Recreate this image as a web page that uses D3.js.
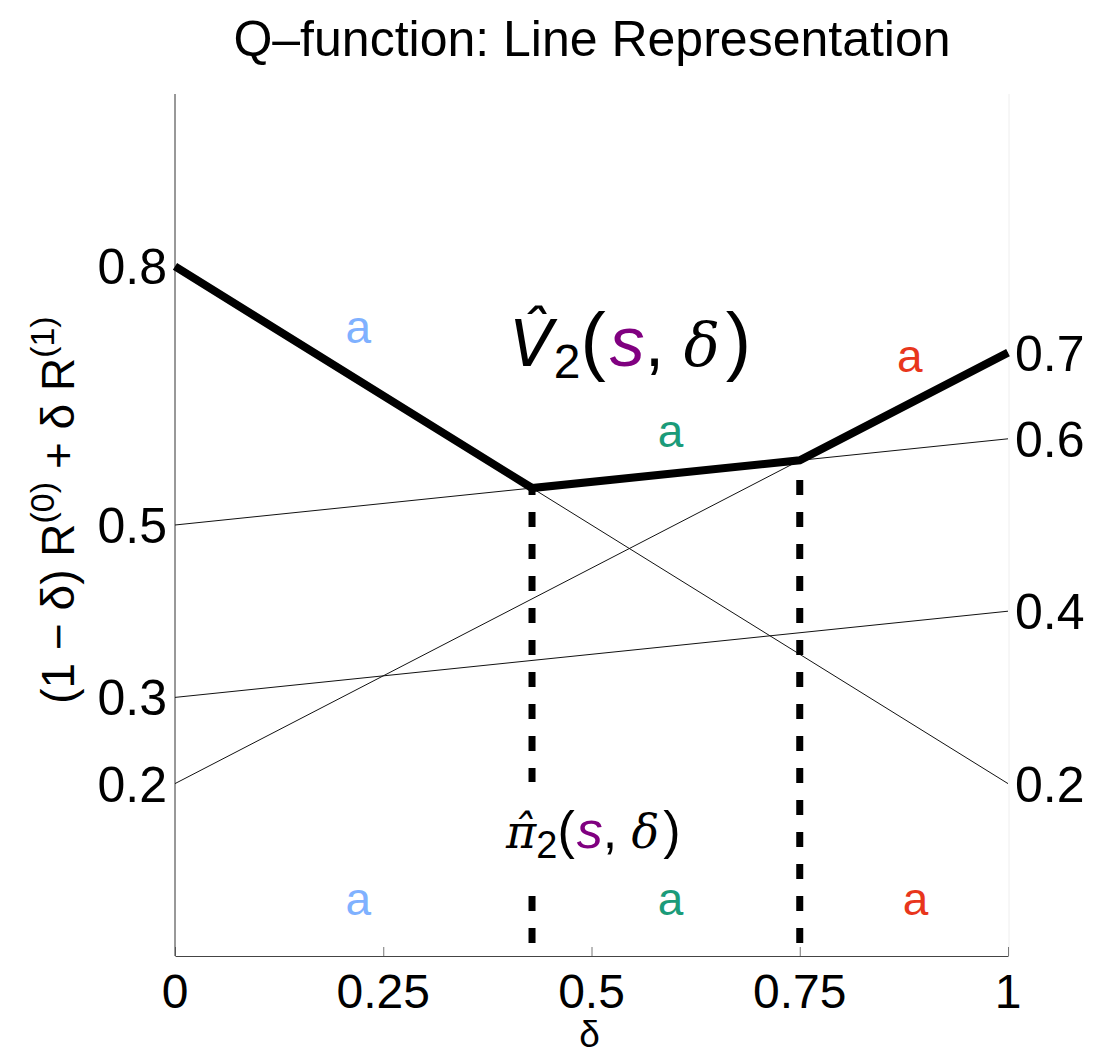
<!DOCTYPE html>
<html>
<head>
<meta charset="utf-8">
<script src="https://cdn.jsdelivr.net/npm/d3@7"></script>
<style>
  body { margin: 0; background: white; }
  text { font-family: "Liberation Sans", Helvetica, Arial, sans-serif; }
</style>
</head>
<body>
<div id="chart"></div>
<script>

// intercepts of each Q-line at delta = 0 and delta = 1
var startValues = [0.8, 0.5, 0.2, 0.3],
    endValues = [0.2, 0.6, 0.7, 0.4];

// upper envelope (V hat) breakpoints
var envelopeDelta = [0, 0.4286, 0.75, 1],
    envelopeValue = [0.8, 0.5429, 0.575, 0.7];

// policy switch points
var switchDelta = [0.4286, 0.75],
    switchValue = [0.5429, 0.575];

var xTicks = [0, 0.25, 0.5, 0.75, 1],
    xTickLabels = ["0", "0.25", "0.5", "0.75", "1"];

var leftLabels = ["0.8", "0.5", "0.3", "0.2"],
    rightLabels = ["0.7", "0.6", "0.4", "0.2"];

// action labels above the envelope and in the bottom band
var actionColors = ["#7fb1ff", "#1b9b79", "#e8361c"],
    topActionDelta = [0.22, 0.595, 0.882],
    topActionValue = [0.711, 0.59, 0.677],
    bottomActionDelta = [0.22, 0.595, 0.889],
    bottomActionValue = [0.047, 0.047, 0.047];

var width = 1094, height = 1055;
var margin = {top: 94, right: 86, bottom: 99, left: 175};

var svg = d3.select("#chart").append("svg")
    .attr("width", width)
    .attr("height", height);

var x = d3.scaleLinear().domain([0, 1]).range([margin.left, width - margin.right]);
var y = d3.scaleLinear().domain([0, 1]).range([height - margin.bottom, margin.top]);

// title
svg.append("text")
    .attr("x", 592)
    .attr("y", 56)
    .attr("text-anchor", "middle")
    .attr("font-size", 50)
    .text("Q\u2013function: Line Representation");

// faint right border
svg.append("line")
    .attr("x1", x(1) + 1).attr("x2", x(1) + 1)
    .attr("y1", y(1)).attr("y2", y(0))
    .attr("stroke", "#eeeeee");

// bottom axis with inward ticks
var xAxis = svg.append("g")
    .attr("transform", "translate(0," + y(0) + ")")
    .call(d3.axisBottom(x).tickValues(xTicks).tickSizeInner(-9).tickSizeOuter(0).tickFormat(""));
xAxis.select(".domain").attr("stroke", "#444");
xAxis.selectAll(".tick line").attr("stroke", "#777");

svg.selectAll(".xlab")
    .data(xTicks)
    .enter().append("text")
    .attr("class", "xlab")
    .attr("x", function(d) { return x(d); })
    .attr("y", 1008)
    .attr("text-anchor", "middle")
    .attr("font-size", 48)
    .text(function(d, i) { return xTickLabels[i]; });

svg.append("text")
    .attr("x", x(0.5) - 2)
    .attr("y", 1047)
    .attr("text-anchor", "middle")
    .attr("font-size", 37)
    .text("\u03b4");

// left axis line
svg.append("line")
    .attr("x1", x(0)).attr("x2", x(0))
    .attr("y1", y(1)).attr("y2", y(0))
    .attr("stroke", "#333");

// y axis title
var yTitle = svg.append("text")
    .attr("transform", "translate(74," + 510 + ") rotate(-90)")
    .attr("text-anchor", "middle")
    .attr("font-size", 46);
yTitle.append("tspan").text("(1 \u2212 \u03b4) R");
yTitle.append("tspan").attr("font-size", 34).attr("dy", -20).text("(0)");
yTitle.append("tspan").attr("dy", 20).text(" + \u03b4 R");
yTitle.append("tspan").attr("font-size", 34).attr("dy", -20).text("(1)");

// Q-lines
svg.selectAll(".qline")
    .data(startValues)
    .enter().append("line")
    .attr("class", "qline")
    .attr("x1", x(0)).attr("y1", function(d) { return y(d); })
    .attr("x2", x(1)).attr("y2", function(d, i) { return y(endValues[i]); })
    .attr("stroke", "#111")
    .attr("stroke-width", 1);

// dashed switch lines, drawn from the bottom up
svg.selectAll(".switch")
    .data(switchDelta)
    .enter().append("line")
    .attr("class", "switch")
    .attr("x1", function(d) { return x(d); })
    .attr("x2", function(d) { return x(d); })
    .attr("y1", y(0))
    .attr("y2", function(d, i) { return y(switchValue[i]); })
    .attr("stroke", "black")
    .attr("stroke-width", 7)
    .attr("stroke-dasharray", "15,17")
    .attr("stroke-dashoffset", 19);

// envelope
var line = d3.line()
    .x(function(d) { return x(d[0]); })
    .y(function(d) { return y(d[1]); });

svg.append("path")
    .datum(d3.zip(envelopeDelta, envelopeValue))
    .attr("d", line)
    .attr("fill", "none")
    .attr("stroke", "black")
    .attr("stroke-width", 8)
    .attr("stroke-linejoin", "miter");

// tick value labels, placed at their own values
svg.selectAll(".llab")
    .data(leftLabels)
    .enter().append("text")
    .attr("class", "llab")
    .attr("x", x(0) - 8)
    .attr("y", function(d) { return y(+d) + 18; })
    .attr("text-anchor", "end")
    .attr("font-size", 50)
    .text(function(d) { return d; });

svg.selectAll(".rlab")
    .data(rightLabels)
    .enter().append("text")
    .attr("class", "rlab")
    .attr("x", x(1) + 7)
    .attr("y", function(d) { return y(+d) + 18; })
    .attr("font-size", 50)
    .text(function(d) { return d; });

// action labels
svg.selectAll(".atop")
    .data(topActionDelta)
    .enter().append("text")
    .attr("class", "atop")
    .attr("x", function(d) { return x(d); })
    .attr("y", function(d, i) { return y(topActionValue[i]); })
    .attr("text-anchor", "middle")
    .attr("font-size", 46)
    .attr("fill", function(d, i) { return actionColors[i]; })
    .text("a");

svg.selectAll(".abot")
    .data(bottomActionDelta)
    .enter().append("text")
    .attr("class", "abot")
    .attr("x", function(d) { return x(d); })
    .attr("y", function(d, i) { return y(bottomActionValue[i]); })
    .attr("text-anchor", "middle")
    .attr("font-size", 46)
    .attr("fill", function(d, i) { return actionColors[i]; })
    .text("a");

// V hat label (combining circumflex for the hat)
var vLab = svg.append("text")
    .attr("x", 510)
    .attr("y", 366)
    .attr("font-size", 70)
    .attr("font-family", "Lato, 'DejaVu Sans', sans-serif");
vLab.append("tspan").attr("font-family", "'DejaVu Sans', sans-serif").attr("font-style", "italic").attr("font-size", 64).text("V\u0302");
vLab.append("tspan").attr("font-size", 48).attr("dy", 12).text("2");
vLab.append("tspan").attr("dy", -12).attr("font-size", 76).attr("font-weight", 300).text("(");
vLab.append("tspan").attr("fill", "#800080").attr("font-style", "italic").attr("dx", 4).text("s");
vLab.append("tspan").text(", ");
vLab.append("tspan").attr("font-family", "'DejaVu Serif', serif").attr("font-style", "italic").attr("font-size", 60).text("\u03b4");
vLab.append("tspan").attr("font-size", 76).attr("font-weight", 300).attr("dx", 6).text(")");

// pi hat label with white backing over the dashed line
svg.append("rect")
    .attr("x", x(switchDelta[0]) - 12)
    .attr("y", 782)
    .attr("width", 24)
    .attr("height", 110)
    .attr("fill", "white");

var pLab = svg.append("text")
    .attr("x", 506)
    .attr("y", 848)
    .attr("font-size", 52)
    .attr("font-family", "Lato, 'DejaVu Sans', sans-serif");
pLab.append("tspan").attr("font-family", "'DejaVu Serif', serif").attr("font-style", "italic").attr("font-size", 46).text("\u03c0\u0302");
pLab.append("tspan").attr("font-size", 38).attr("dy", 10).text("2");
pLab.append("tspan").attr("dy", -10).attr("font-weight", 300).text("(");
pLab.append("tspan").attr("fill", "#800080").attr("font-style", "italic").attr("dx", 2).text("s");
pLab.append("tspan").text(", ");
pLab.append("tspan").attr("font-family", "'DejaVu Serif', serif").attr("font-style", "italic").attr("font-size", 46).text("\u03b4");
pLab.append("tspan").attr("font-weight", 300).attr("dx", 4).text(")");

</script>
</body>
</html>
